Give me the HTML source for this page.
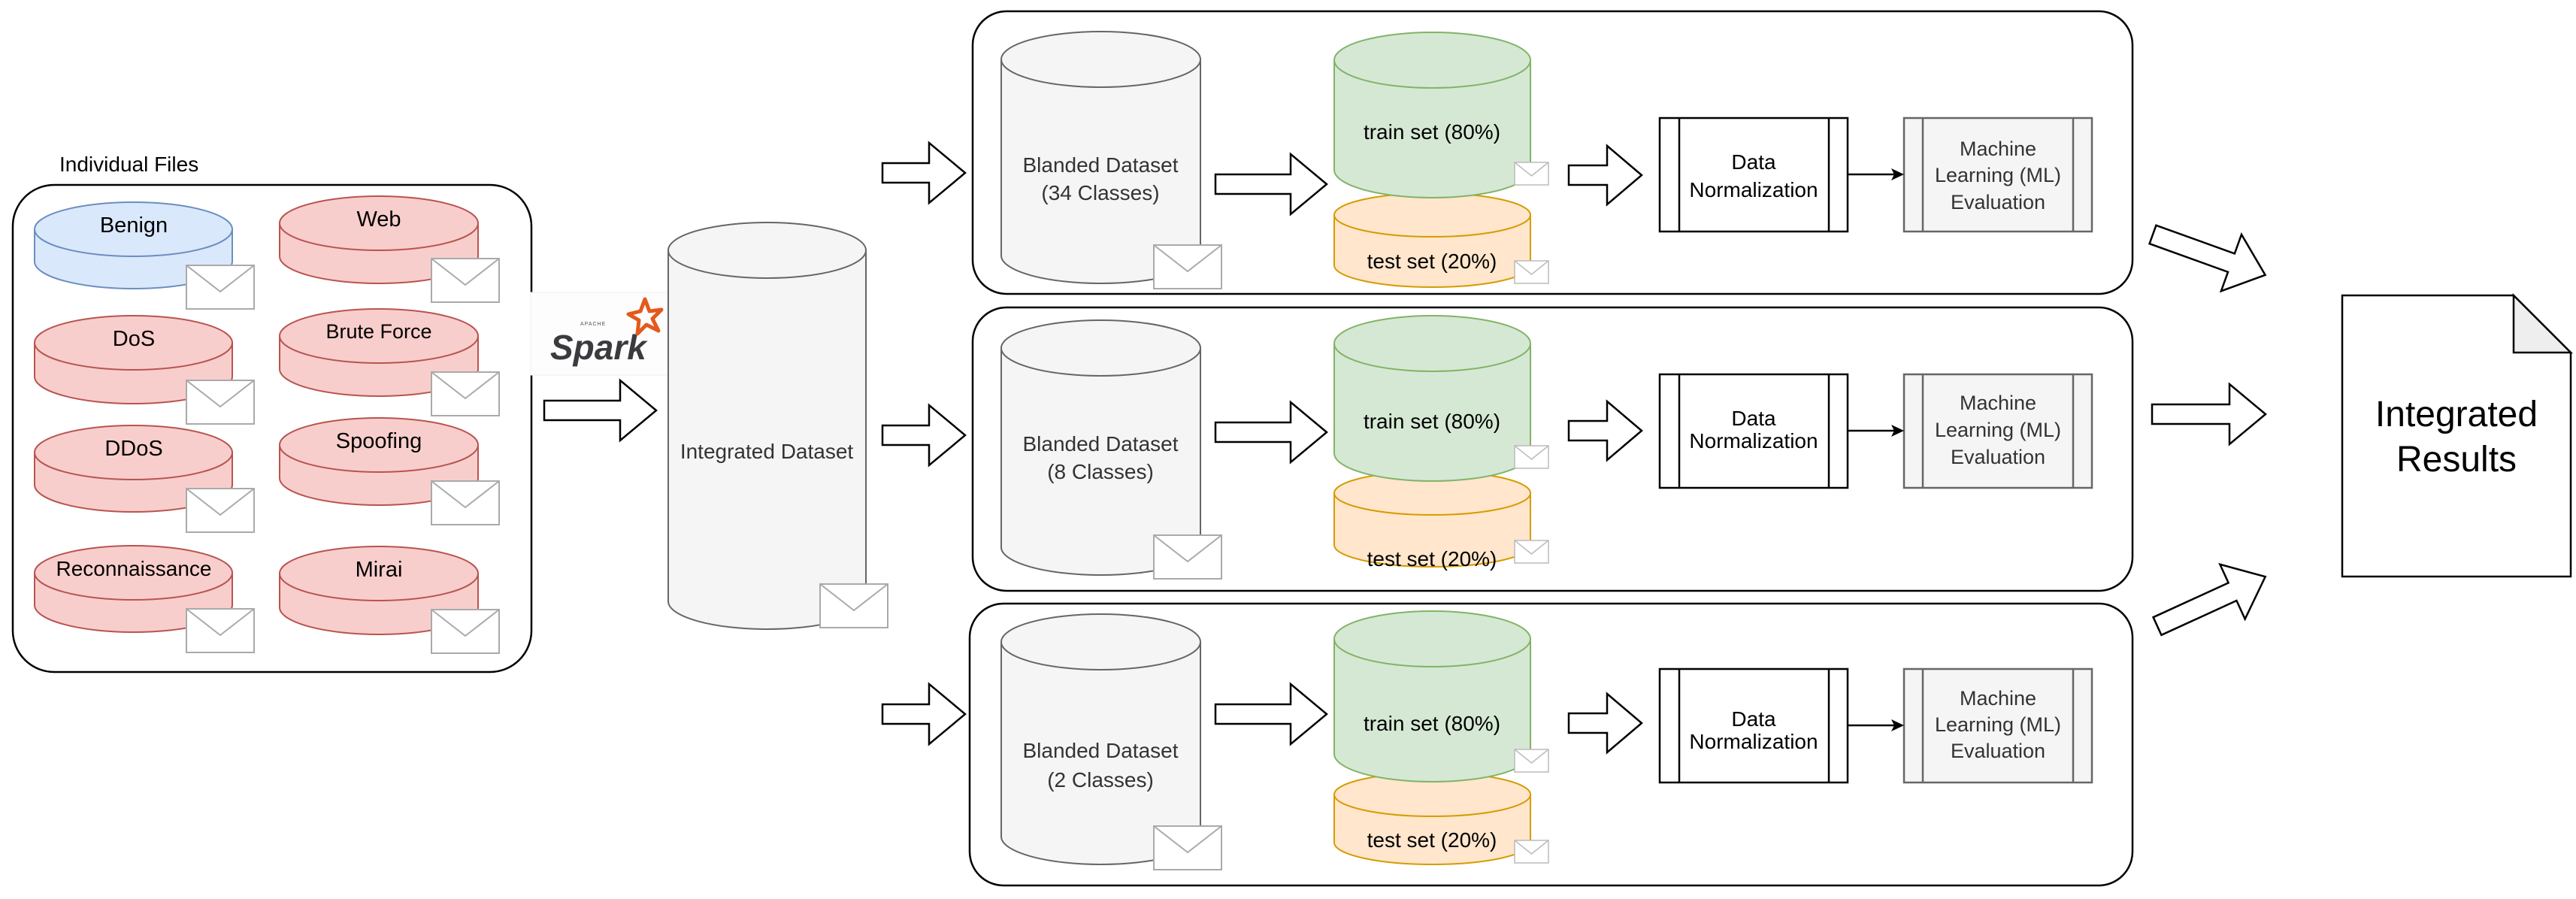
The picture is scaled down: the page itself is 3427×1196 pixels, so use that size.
<!DOCTYPE html>
<html><head><meta charset="utf-8"><style>
html,body{margin:0;padding:0;background:#fff;}
svg{display:block;}
text{font-family:"Liberation Sans",Arial,sans-serif;}
</style></head><body>
<svg width="3427" height="1196" viewBox="0 0 3427 1196" xmlns="http://www.w3.org/2000/svg">
<defs>
<g id="env"><rect x="0" y="0" width="90" height="58" fill="#fff" stroke="#aaa" stroke-width="2"/><polyline points="0,0 45,35 90,0" fill="none" stroke="#aaa" stroke-width="2"/></g>
<g id="envs"><rect x="0" y="0" width="45" height="30" fill="#fff" stroke="#bbb" stroke-width="1.5"/><polyline points="0,0 22.5,18 45,0" fill="none" stroke="#bbb" stroke-width="1.5"/></g>
</defs>

<!-- Panels (drawn first) -->
<g fill="#fff" stroke="#000" stroke-width="2.5">
<rect x="1294" y="15" width="1543" height="376" rx="45"/>
<rect x="1294" y="409" width="1543" height="377" rx="45"/>
<rect x="1290" y="803" width="1547" height="375" rx="45"/>
</g>

<!-- Left container -->
<text x="79" y="228" font-size="28" fill="#000">Individual Files</text>
<rect x="17" y="246" width="690" height="648" rx="55" fill="#fff" stroke="#000" stroke-width="2.5"/>

<g stroke-width="2">
<g fill="#dae8fc" stroke="#6c8ebf">
<path d="M46 305 A131.5 36 0 0 1 309 305 L309 348 A131.5 36 0 0 1 46 348 Z"/><path d="M46 305 A131.5 36 0 0 0 309 305" fill="none"/>
</g>
<g fill="#f8cecc" stroke="#b85450">
<path d="M372 297 A132 36 0 0 1 636 297 L636 341 A132 36 0 0 1 372 341 Z"/><path d="M372 297 A132 36 0 0 0 636 297" fill="none"/>
<path d="M46 456 A131.5 36 0 0 1 309 456 L309 501 A131.5 36 0 0 1 46 501 Z"/><path d="M46 456 A131.5 36 0 0 0 309 456" fill="none"/>
<path d="M372 447 A132 36 0 0 1 636 447 L636 491 A132 36 0 0 1 372 491 Z"/><path d="M372 447 A132 36 0 0 0 636 447" fill="none"/>
<path d="M46 602 A131.5 36 0 0 1 309 602 L309 645 A131.5 36 0 0 1 46 645 Z"/><path d="M46 602 A131.5 36 0 0 0 309 602" fill="none"/>
<path d="M372 592 A132 36 0 0 1 636 592 L636 636 A132 36 0 0 1 372 636 Z"/><path d="M372 592 A132 36 0 0 0 636 592" fill="none"/>
<path d="M46 762 A131.5 36 0 0 1 309 762 L309 805 A131.5 36 0 0 1 46 805 Z"/><path d="M46 762 A131.5 36 0 0 0 309 762" fill="none"/>
<path d="M372 763 A132 36 0 0 1 636 763 L636 808 A132 36 0 0 1 372 808 Z"/><path d="M372 763 A132 36 0 0 0 636 763" fill="none"/>
</g>
</g>
<g font-size="29" text-anchor="middle" fill="#000">
<text x="178" y="309">Benign</text>
<text x="504" y="301">Web</text>
<text x="178" y="460">DoS</text>
<text x="504" y="450" font-size="27">Brute Force</text>
<text x="178" y="606">DDoS</text>
<text x="504" y="596">Spoofing</text>
<text x="178" y="766" font-size="28">Reconnaissance</text>
<text x="504" y="767">Mirai</text>
</g>
<use href="#env" x="248" y="353"/>
<use href="#env" x="574" y="344"/>
<use href="#env" x="248" y="506"/>
<use href="#env" x="574" y="495"/>
<use href="#env" x="248" y="650"/>
<use href="#env" x="574" y="640"/>
<use href="#env" x="248" y="810"/>
<use href="#env" x="574" y="811"/>

<!-- Spark logo -->
<rect x="706" y="389" width="183" height="110" fill="#fdfdfd" stroke="#eee" stroke-width="1"/>
<text x="732" y="478" font-size="46" font-style="italic" font-weight="bold" fill="#3c3a3e">Spark</text>
<text x="772" y="433" font-size="7" fill="#555" letter-spacing="1">APACHE</text>
<polygon points="858,398 864,414 880,412 868,424 876,440 860,432 848,444 850,426 836,418 852,414" fill="none" stroke="#e25a1c" stroke-width="5" stroke-linejoin="round"/>

<!-- block arrows -->
<g fill="#fff" stroke="#000" stroke-width="2.5" stroke-linejoin="miter">
<polygon points="724,533 825,533 825,506 873,546 825,586 825,559 724,559"/>
<polygon points="1174,217 1236,217 1236,190 1284,230 1236,270 1236,243 1174,243"/>
<polygon points="1174,566 1236,566 1236,539 1284,579 1236,619 1236,592 1174,592"/>
<polygon points="1174,937 1236,937 1236,910 1284,950 1236,990 1236,963 1174,963"/>
<polygon points="1617,232 1717,232 1717,205 1765,245 1717,285 1717,258 1617,258"/>
<polygon points="1617,562 1717,562 1717,535 1765,575 1717,615 1717,588 1617,588"/>
<polygon points="1617,937 1717,937 1717,910 1765,950 1717,990 1717,963 1617,963"/>
<polygon points="2087,220 2138,220 2138,194 2184,233 2138,272 2138,246 2087,246"/>
<polygon points="2087,560 2138,560 2138,534 2184,573 2138,612 2138,586 2087,586"/>
<polygon points="2087,949 2138,949 2138,923 2184,962 2138,1001 2138,975 2087,975"/>
<polygon points="2863,538 2966,538 2966,511 3014,551 2966,591 2966,564 2863,564"/>
<polygon transform="translate(2864,312) rotate(19.8)" points="0,-13 111,-13 111,-40 159,0 111,40 111,13 0,13"/>
<polygon transform="translate(2870,833) rotate(-24.6)" points="0,-13 110,-13 110,-40 158,0 110,40 110,13 0,13"/>
</g>

<!-- Integrated dataset -->
<g fill="#f5f5f5" stroke="#666" stroke-width="2">
<path d="M889 333 A131.5 37 0 0 1 1152 333 L1152 800 A131.5 37 0 0 1 889 800 Z"/><path d="M889 333 A131.5 37 0 0 0 1152 333" fill="none"/>
</g>
<text x="1020" y="610" font-size="28" text-anchor="middle" fill="#333">Integrated Dataset</text>
<use href="#env" x="1091" y="777"/>

<!-- Blanded cylinders -->
<g fill="#f5f5f5" stroke="#666" stroke-width="2">
<path d="M1332 79 A132.5 37 0 0 1 1597 79 L1597 340 A132.5 37 0 0 1 1332 340 Z"/><path d="M1332 79 A132.5 37 0 0 0 1597 79" fill="none"/>
<path d="M1332 463 A132.5 37 0 0 1 1597 463 L1597 728 A132.5 37 0 0 1 1332 728 Z"/><path d="M1332 463 A132.5 37 0 0 0 1597 463" fill="none"/>
<path d="M1332 854 A132.5 37 0 0 1 1597 854 L1597 1113 A132.5 37 0 0 1 1332 1113 Z"/><path d="M1332 854 A132.5 37 0 0 0 1597 854" fill="none"/>
</g>
<g font-size="28" text-anchor="middle" fill="#333">
<text x="1464" y="229">Blanded Dataset</text><text x="1464" y="266">(34 Classes)</text>
<text x="1464" y="600">Blanded Dataset</text><text x="1464" y="637">(8 Classes)</text>
<text x="1464" y="1008">Blanded Dataset</text><text x="1464" y="1047">(2 Classes)</text>
</g>
<use href="#env" x="1535" y="326"/>
<use href="#env" x="1535" y="712"/>
<use href="#env" x="1535" y="1099"/>

<!-- test sets -->
<g fill="#ffe6cc" stroke="#d79b00" stroke-width="2">
<path d="M1775 286 A130.5 29 0 0 1 2036 286 L2036 353 A130.5 29 0 0 1 1775 353 Z"/><path d="M1775 286 A130.5 29 0 0 0 2036 286" fill="none"/>
<path d="M1775 656 A130.5 29 0 0 1 2036 656 L2036 725 A130.5 29 0 0 1 1775 725 Z"/><path d="M1775 656 A130.5 29 0 0 0 2036 656" fill="none"/>
<path d="M1775 1057 A130.5 29 0 0 1 2036 1057 L2036 1121 A130.5 29 0 0 1 1775 1121 Z"/><path d="M1775 1057 A130.5 29 0 0 0 2036 1057" fill="none"/>
</g>
<!-- train sets -->
<g fill="#d5e8d4" stroke="#82b366" stroke-width="2">
<path d="M1775 80 A130.5 37 0 0 1 2036 80 L2036 226 A130.5 37 0 0 1 1775 226 Z"/><path d="M1775 80 A130.5 37 0 0 0 2036 80" fill="none"/>
<path d="M1775 457 A130.5 37 0 0 1 2036 457 L2036 603 A130.5 37 0 0 1 1775 603 Z"/><path d="M1775 457 A130.5 37 0 0 0 2036 457" fill="none"/>
<path d="M1775 850 A130.5 37 0 0 1 2036 850 L2036 1003 A130.5 37 0 0 1 1775 1003 Z"/><path d="M1775 850 A130.5 37 0 0 0 2036 850" fill="none"/>
</g>
<g font-size="28" text-anchor="middle" fill="#000">
<text x="1905" y="185">train set (80%)</text>
<text x="1905" y="357">test set (20%)</text>
<text x="1905" y="570">train set (80%)</text>
<text x="1905" y="753">test set (20%)</text>
<text x="1905" y="972">train set (80%)</text>
<text x="1905" y="1127">test set (20%)</text>
</g>
<use href="#envs" x="2015" y="216"/>
<use href="#envs" x="2015" y="347"/>
<use href="#envs" x="2015" y="593"/>
<use href="#envs" x="2015" y="719"/>
<use href="#envs" x="2015" y="997"/>
<use href="#envs" x="2015" y="1118"/>

<!-- Data Normalization boxes -->
<g fill="#fff" stroke="#000" stroke-width="2.5">
<rect x="2208" y="157" width="250" height="151"/><line x1="2234" y1="157" x2="2234" y2="308"/><line x1="2433" y1="157" x2="2433" y2="308"/>
<rect x="2208" y="498" width="250" height="151"/><line x1="2234" y1="498" x2="2234" y2="649"/><line x1="2433" y1="498" x2="2433" y2="649"/>
<rect x="2208" y="890" width="250" height="151"/><line x1="2234" y1="890" x2="2234" y2="1041"/><line x1="2433" y1="890" x2="2433" y2="1041"/>
</g>
<g font-size="28" text-anchor="middle" fill="#000">
<text x="2333" y="225">Data</text><text x="2333" y="262">Normalization</text>
<text x="2333" y="566">Data</text><text x="2333" y="596">Normalization</text>
<text x="2333" y="966">Data</text><text x="2333" y="996">Normalization</text>
</g>
<!-- ML boxes -->
<g fill="#f5f5f5" stroke="#666" stroke-width="2.5">
<rect x="2533" y="157" width="250" height="151"/><line x1="2558" y1="157" x2="2558" y2="308"/><line x1="2758" y1="157" x2="2758" y2="308"/>
<rect x="2533" y="498" width="250" height="151"/><line x1="2558" y1="498" x2="2558" y2="649"/><line x1="2758" y1="498" x2="2758" y2="649"/>
<rect x="2533" y="890" width="250" height="151"/><line x1="2558" y1="890" x2="2558" y2="1041"/><line x1="2758" y1="890" x2="2758" y2="1041"/>
</g>
<g font-size="27" text-anchor="middle" fill="#333">
<text x="2658" y="207">Machine</text><text x="2658" y="242">Learning (ML)</text><text x="2658" y="278">Evaluation</text>
<text x="2658" y="545">Machine</text><text x="2658" y="581">Learning (ML)</text><text x="2658" y="617">Evaluation</text>
<text x="2658" y="938">Machine</text><text x="2658" y="973">Learning (ML)</text><text x="2658" y="1008">Evaluation</text>
</g>
<!-- connectors -->
<g stroke="#000" stroke-width="2.5">
<line x1="2458" y1="232" x2="2520" y2="232"/>
<line x1="2458" y1="573" x2="2520" y2="573"/>
<line x1="2458" y1="965" x2="2520" y2="965"/>
</g>
<g fill="#000">
<polygon points="2533,232 2516,224 2520,232 2516,240"/>
<polygon points="2533,573 2516,565 2520,573 2516,581"/>
<polygon points="2533,965 2516,957 2520,965 2516,973"/>
</g>

<!-- Integrated Results document -->
<polygon points="3116,393 3344,393 3420,469 3420,767 3116,767" fill="#fff" stroke="#000" stroke-width="2.5"/>
<polygon points="3344,393 3344,469 3420,469" fill="#eee" stroke="#000" stroke-width="2.5"/>
<g font-size="48" text-anchor="middle" fill="#000">
<text x="3268" y="567">Integrated</text>
<text x="3268" y="627">Results</text>
</g>
</svg>
</body></html>
